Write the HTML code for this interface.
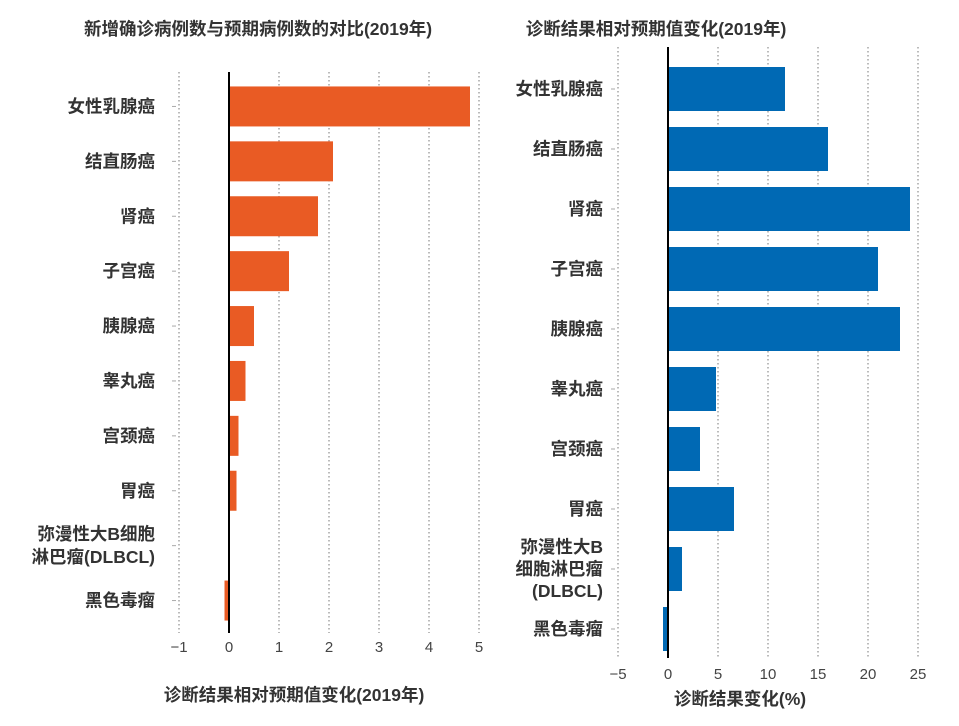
<!DOCTYPE html>
<html><head><meta charset="utf-8">
<style>
body{margin:0;background:#fff;}
svg{display:block;font-family:"Liberation Sans","Noto Sans CJK SC",sans-serif;}
.cat{font-size:17.5px;font-weight:bold;fill:#333;}
.tick{font-size:15px;fill:#444;}
.title{font-size:17.5px;font-weight:bold;fill:#333;}
</style></head><body>
<svg id="chart" width="959" height="726" viewBox="0 0 959 726"></svg>
<script>
const leftCats=[["女性乳腺癌"],["结直肠癌"],["肾癌"],["子宫癌"],["胰腺癌"],["睾丸癌"],["宫颈癌"],["胃癌"],["弥漫性大B细胞","淋巴瘤(DLBCL)"],["黑色毒瘤"]];
const leftVals=[4.82,2.08,1.78,1.2,0.5,0.33,0.19,0.15,0.02,-0.09];
const leftTicks=[-1,0,1,2,3,4,5];
const rightCats=[["女性乳腺癌"],["结直肠癌"],["肾癌"],["子宫癌"],["胰腺癌"],["睾丸癌"],["宫颈癌"],["胃癌"],["弥漫性大B","细胞淋巴瘤","(DLBCL)"],["黑色毒瘤"]];
const rightVals=[11.7,16.0,24.2,21.0,23.2,4.8,3.2,6.6,1.4,-0.5];
const rightTicks=[-5,0,5,10,15,20,25];
const rightTickLabels=["−5","0","5","10","15","20","25"];
const leftTickLabels=["−1","0","1","2","3","4","5"];

const svg=document.getElementById('chart');
const NS="http://www.w3.org/2000/svg";
function mk(tag,attrs,parent){const e=document.createElementNS(NS,tag);for(const k in attrs)e.setAttribute(k,attrs[k]);(parent||svg).appendChild(e);return e;}

function panel(o){
  const g=mk('g',{});
  
  
  const x=v=>o.x0+(v-o.d0)/(o.d1-o.d0)*(o.x1-o.x0);
  const bandH=(o.yBot-o.yTop)/o.cats.length;
  const y=i=>o.yTop+bandH*(i+0.5);
  o.ticks.forEach((t,i)=>{
    if(t!==0){const l=mk('line',{x1:x(t),x2:x(t),y1:o.gTop,y2:o.gBot,stroke:'#777','stroke-width':1,'stroke-dasharray':'1.5,2.5'},g);
    
    }
    const tx=mk('text',{x:x(t),y:o.tickY,'text-anchor':'middle',class:'tick'},g);
    tx.textContent=o.tickLabels[i];
    
    
  });
  o.vals.forEach((v,i)=>{
    const a=x(Math.min(0,v)),b=x(Math.max(0,v));
    const r=mk('rect',{x:a,y:y(i)-o.barH/2,width:Math.max(b-a,0.5),height:o.barH,fill:o.color},g);
    
    
    mk('line',{x1:o.x0-7,x2:o.x0-3,y1:y(i),y2:y(i),stroke:'#aaa'},g);
    const lines=o.cats[i];
    const t=mk('text',{x:o.labelX,y:y(i)+6-(lines.length-1)*o.lh/2,'text-anchor':'end',class:'cat'},g);
    
    
    lines.forEach((s,j)=>{const sp=mk('tspan',{x:o.labelX,dy:j?o.lh:0},t);sp.textContent=s;});
  });
  const z=mk('line',{x1:x(0),x2:x(0),y1:o.gTop,y2:o.gBot,stroke:'#000','stroke-width':2},g);
  
  
  const tt=mk('text',{x:o.titleX,y:o.titleY,'text-anchor':'middle',class:'title'},g);
  tt.textContent=o.title;
  
  
  const xt=mk('text',{x:o.xtX,y:o.xtY,'text-anchor':'middle',class:'title'},g);
  xt.textContent=o.xtitle;
  
  
}
panel({name:'left-chart',cats:leftCats,vals:leftVals,ticks:leftTicks,tickLabels:leftTickLabels,d0:-1,d1:5,x0:179,x1:479,
  yTop:79,yBot:628,gTop:72,gBot:633,barH:40,color:'#e95b24',labelX:155,lh:23,tickY:652,
  title:'新增确诊病例数与预期病例数的对比(2019年)',titleX:258,titleY:35,xtitle:'诊断结果相对预期值变化(2019年)',xtX:294,xtY:701});
panel({name:'right-chart',cats:rightCats,vals:rightVals,ticks:rightTicks,tickLabels:rightTickLabels,d0:-5,d1:25,x0:618,x1:918,
  yTop:59,yBot:659,gTop:47,gBot:658,barH:44,color:'#0069b4',labelX:603,lh:22,tickY:679,
  title:'诊断结果相对预期值变化(2019年)',titleX:656,titleY:35,xtitle:'诊断结果变化(%)',xtX:740,xtY:705});
</script>
</body></html>
